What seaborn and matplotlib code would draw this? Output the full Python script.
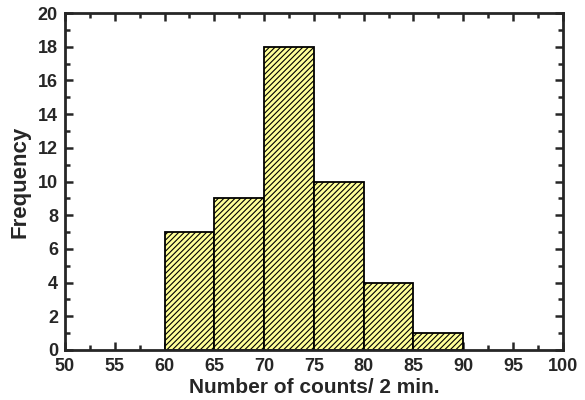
import matplotlib.pyplot as plt
import seaborn as sns
from matplotlib.ticker import MultipleLocator

# histogram data
bin_edges = [60, 65, 70, 75, 80, 85, 90]
bin_starts = [60, 65, 70, 75, 80, 85]
counts = [7, 9, 18, 10, 4, 1]

sns.set_style("ticks")
plt.rcParams["font.family"] = ["Liberation Sans", "DejaVu Sans"]
plt.rcParams["font.weight"] = "bold"
plt.rcParams["hatch.color"] = "#6b6b3a"
plt.rcParams["hatch.linewidth"] = 0.8

fig = plt.figure(figsize=(5.85, 4.0), dpi=100)
ax = fig.add_axes([0.111, 0.125, 0.851, 0.8425])

sns.histplot(x=bin_starts, weights=counts, bins=bin_edges, ax=ax,
             color="#ffff99", alpha=1.0, edgecolor="black", linewidth=1.3,
             hatch="//////")

ax.set_xlim(50, 100)
ax.set_ylim(0, 20)
ax.xaxis.set_major_locator(MultipleLocator(5))
ax.xaxis.set_minor_locator(MultipleLocator(2.5))
ax.yaxis.set_major_locator(MultipleLocator(2))
ax.yaxis.set_minor_locator(MultipleLocator(1))

ax.tick_params(which="both", direction="in", top=True, right=True, width=1.8,
               labelsize=13)
ax.tick_params(which="major", length=6)
ax.tick_params(which="minor", length=3.5)
ax.tick_params(axis="x", which="major", pad=6)
ax.tick_params(axis="y", which="major", pad=5)
for sp in ax.spines.values():
    sp.set_linewidth(2)

ax.set_xlabel("Number of counts/ 2 min.", fontsize=15, fontweight="bold", labelpad=2)
ax.set_ylabel("Frequency", fontsize=16, fontweight="bold", labelpad=5)

fig.savefig("out.png", dpi=100)
